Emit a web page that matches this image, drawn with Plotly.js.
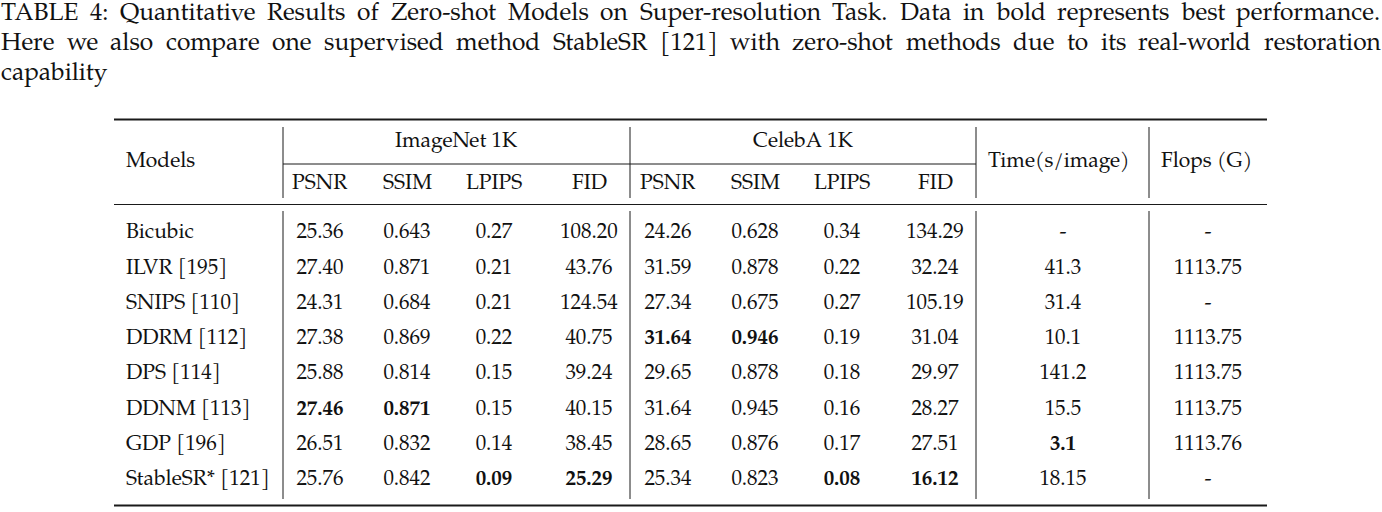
<!DOCTYPE html>
<html>
<head>
<meta charset="utf-8">
<script src="https://cdn.plot.ly/plotly-3.0.1.min.js"></script>
<style>
  html, body { margin: 0; padding: 0; background: #ffffff; }
  #chart { width: 1382px; height: 512px; }
</style>
</head>
<body>
<div id="chart"></div>
<script>
// ---------------- data ----------------
const captionLines = [
  "TABLE 4: Quantitative Results of Zero-shot Models on Super-resolution Task. Data in bold represents best performance.",
  "Here we also compare one supervised method StableSR [121] with zero-shot methods due to its real-world restoration",
  "capability"
];
const datasetHeaders = ["ImageNet 1K", "CelebA 1K"];
const metricHeaders = ["PSNR", "SSIM", "LPIPS", "FID"];
const modelsHeader = "Models";
const timeHeader = "Time(s/image)";
const flopsHeader = "Flops (G)";

const models = ["Bicubic", "ILVR [195]", "SNIPS [110]", "DDRM [112]", "DPS [114]", "DDNM [113]", "GDP [196]", "StableSR* [121]"];
const imagenetPSNR  = ["25.36", "27.40", "24.31", "27.38", "25.88", "27.46", "26.51", "25.76"];
const imagenetSSIM  = ["0.643", "0.871", "0.684", "0.869", "0.814", "0.871", "0.832", "0.842"];
const imagenetLPIPS = ["0.27", "0.21", "0.21", "0.22", "0.15", "0.15", "0.14", "0.09"];
const imagenetFID   = ["108.20", "43.76", "124.54", "40.75", "39.24", "40.15", "38.45", "25.29"];
const celebaPSNR    = ["24.26", "31.59", "27.34", "31.64", "29.65", "31.64", "28.65", "25.34"];
const celebaSSIM    = ["0.628", "0.878", "0.675", "0.946", "0.878", "0.945", "0.876", "0.823"];
const celebaLPIPS   = ["0.34", "0.22", "0.27", "0.19", "0.18", "0.16", "0.17", "0.08"];
const celebaFID     = ["134.29", "32.24", "105.19", "31.04", "29.97", "28.27", "27.51", "16.12"];
const timePerImage  = ["-", "41.3", "31.4", "10.1", "141.2", "15.5", "3.1", "18.15"];
const flopsG        = ["-", "1113.75", "-", "1113.75", "1113.75", "1113.75", "1113.76", "-"];

// bold (best) cells: [column name, row index]
const boldCells = [
  ["imagenetPSNR", 5], ["imagenetSSIM", 5], ["imagenetLPIPS", 7], ["imagenetFID", 7],
  ["celebaPSNR", 3], ["celebaSSIM", 3], ["celebaLPIPS", 7], ["celebaFID", 7],
  ["timePerImage", 6]
];

// ---------------- layout constants ----------------
const W = 1382, H = 512;
const FONT = "Palatino Linotype, Palatino, P052, TeX Gyre Pagella, Liberation Serif, serif";
const TXT = "#111111";
const LINE = "#1a1a1a";
const tableFont = 21, captionFont = 24.5;
const tableLeft = 114, tableRight = 1267;
const vLines = [283, 630, 976, 1149];
const rowY0 = 233, rowStep = 35.3;
const valueCols = [
  ["imagenetPSNR", imagenetPSNR, 320], ["imagenetSSIM", imagenetSSIM, 407],
  ["imagenetLPIPS", imagenetLPIPS, 494], ["imagenetFID", imagenetFID, 589],
  ["celebaPSNR", celebaPSNR, 668], ["celebaSSIM", celebaSSIM, 755],
  ["celebaLPIPS", celebaLPIPS, 842], ["celebaFID", celebaFID, 935],
  ["timePerImage", timePerImage, 1063], ["flopsG", flopsG, 1208]
];
const metricX = [320, 407, 494, 589, 668, 755, 842, 935];

const rowYs = models.map((_, i) => rowY0 + i * rowStep);
const isBold = (name, i) => boldCells.some(c => c[0] === name && c[1] === i);

// ---------------- traces ----------------
const traces = [];
traces.push({
  type: "scatter", mode: "text", x: models.map(() => tableLeft + 12), y: rowYs,
  text: models, textposition: "middle right",
  textfont: { family: FONT, size: tableFont, color: TXT }, hoverinfo: "skip"
});
valueCols.forEach(([name, vals, x]) => {
  traces.push({
    type: "scatter", mode: "text", x: vals.map(() => x), y: rowYs,
    text: vals.map((v, i) => isBold(name, i) ? "<b>" + v + "</b>" : v),
    textposition: "middle center",
    textfont: { family: FONT, size: tableFont, color: TXT }, hoverinfo: "skip"
  });
});

// ---------------- shapes ----------------
const shapes = [];
const hline = (x0, x1, y, w) => shapes.push({ type: "line", xref: "x", yref: "y", x0, x1, y0: y, y1: y, line: { color: LINE, width: w } });
const vline = (x, y0, y1) => shapes.push({ type: "line", xref: "x", yref: "y", x0: x, x1: x, y0, y1, line: { color: LINE, width: 1 } });
hline(tableLeft, tableRight, 119.5, 2);
hline(vLines[0], vLines[2], 164, 1);
hline(tableLeft, tableRight, 204.5, 1);
hline(tableLeft, tableRight, 505.5, 2);
vLines.forEach(x => { vline(x, 127, 198); vline(x, 211, 499); });

// ---------------- annotations ----------------
const annotations = [];
const ann = (text, x, y, xanchor, size, xshift) => annotations.push({
  text, x, y, xref: "x", yref: "y", xanchor, yanchor: "middle", showarrow: false,
  xshift: xshift || 0,
  font: { family: FONT, size: size || tableFont, color: TXT }
});
ann(modelsHeader, tableLeft + 12, 162, "left", tableFont, -2);
ann(datasetHeaders[0], (vLines[0] + vLines[1]) / 2, 142, "center");
ann(datasetHeaders[1], (vLines[1] + vLines[2]) / 2, 142, "center");
metricX.forEach((x, k) => ann(metricHeaders[k % 4], x, 184, "center"));
ann(timeHeader, vLines[2] + 12, 162, "left", tableFont, -2);
ann(flopsHeader, vLines[3] + 12, 162, "left", tableFont, -2);

// caption: justified lines (word positions from measured widths)
const ctx = document.createElement("canvas").getContext("2d");
ctx.font = captionFont + "px " + FONT.split(", ").map(f => f.includes(" ") ? '"' + f + '"' : f).join(", ");
const captionYs = [14, 44, 74];
captionLines.forEach((line, li) => {
  if (li === captionLines.length - 1) { ann(line, 0.5, captionYs[li], "left", captionFont, -2); return; }
  const words = line.split(" ");
  const widths = words.map(w => ctx.measureText(w).width);
  const total = widths.reduce((a, b) => a + b, 0);
  const gap = (W - 2 - total) / (words.length - 1);
  let x = 0.5;
  words.forEach((w, k) => { ann(w, x, captionYs[li], "left", captionFont, -2); x += widths[k] + gap; });
});

const layout = {
  width: W, height: H, margin: { l: 0, r: 0, t: 0, b: 0, pad: 0 },
  paper_bgcolor: "#ffffff", plot_bgcolor: "#ffffff", showlegend: false,
  xaxis: { range: [0, W], visible: false, fixedrange: true },
  yaxis: { range: [H, 0], visible: false, fixedrange: true },
  shapes, annotations
};
Plotly.newPlot("chart", traces, layout, { staticPlot: true, displayModeBar: false });
</script>
</body>
</html>
